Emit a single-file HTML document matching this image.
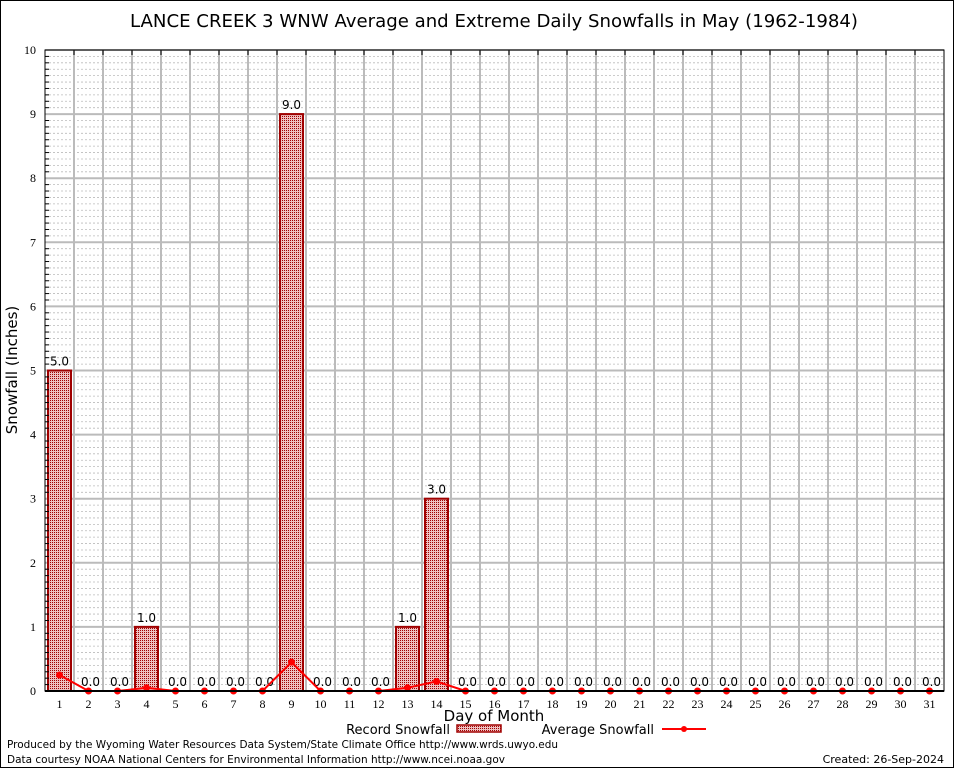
<!DOCTYPE html>
<html><head><meta charset="utf-8"><style>
body{margin:0;background:#fff;}
svg{display:block;font-family:"DejaVu Sans","Liberation Sans",sans-serif;}
</style></head><body>
<svg id="c" width="954" height="768">
<defs><pattern id="hatch" width="2" height="2" patternUnits="userSpaceOnUse"><rect width="2" height="2" fill="#eec0c0"/><rect width="1" height="1" fill="#a00000"/></pattern></defs>
<rect x="0.5" y="0.5" width="953" height="767" fill="#fff" stroke="#000"/>
<text x="494" y="27" font-size="17.5" text-anchor="middle" textLength="728" lengthAdjust="spacingAndGlyphs">LANCE CREEK 3 WNW Average and Extreme Daily Snowfalls in May (1962-1984)</text>
<g id="grid"></g><g id="bars"></g><g id="line"></g><g id="axes"></g>
<text x="17" y="370" font-size="15" text-anchor="middle" transform="rotate(-90 17 370)">Snowfall (Inches)</text>
<text x="494" y="721" font-size="15" text-anchor="middle">Day of Month</text>
<g><text x="450" y="734" font-size="13" text-anchor="end">Record Snowfall</text><rect x="457" y="725" width="44" height="7" fill="url(#hatch)" stroke="#a00000" stroke-width="1.5"/></g>
<g><text x="654" y="734" font-size="13" text-anchor="end">Average Snowfall</text><line x1="662" y1="729" x2="706" y2="729" stroke="#f00" stroke-width="2"/><circle cx="684" cy="729" r="3" fill="#f00"/></g>
<text x="7" y="748" font-size="11" textLength="551" lengthAdjust="spacingAndGlyphs">Produced by the Wyoming Water Resources Data System/State Climate Office http://www.wrds.uwyo.edu</text>
<text x="7" y="763" font-size="11" textLength="498" lengthAdjust="spacingAndGlyphs">Data courtesy NOAA National Centers for Environmental Information http://www.ncei.noaa.gov</text>
<text x="944" y="763" font-size="11" text-anchor="end">Created:  26-Sep-2024</text>
</svg>
<script>
const days=[1,2,3,4,5,6,7,8,9,10,11,12,13,14,15,16,17,18,19,20,21,22,23,24,25,26,27,28,29,30,31];
const recordSnow=[5,0,0,1,0,0,0,0,9,0,0,0,1,3,0,0,0,0,0,0,0,0,0,0,0,0,0,0,0,0,0];
const avgSnow=[0.25,0,0,0.05,0,0,0,0,0.45,0,0,0,0.05,0.15,0,0,0,0,0,0,0,0,0,0,0,0,0,0,0,0,0];
const yTicks=[0,1,2,3,4,5,6,7,8,9,10];
const L=45,R=944,T=50,B=691,yMax=10;
const bw=(R-L)/days.length;
const X=d=>L+(d-0.5)*bw;
const Y=v=>B-(v/yMax)*(B-T);
const NS="http://www.w3.org/2000/svg";
function mk(tag,attrs,parent,txt){const e=document.createElementNS(NS,tag);for(const k in attrs)e.setAttribute(k,attrs[k]);if(txt!==undefined)e.textContent=txt;document.getElementById(parent).appendChild(e);return e;}
for(let v=0;v<yMax*10;v++){if(v%10===0)continue;const y=Y(v/10);
 const g=mk('line',{x1:L,x2:R,y1:y,y2:y,stroke:'#bbb','stroke-dasharray':'2,2','stroke-width':0.8},'grid');
 
 
 const t=mk('line',{x1:L,x2:L+4,y1:y,y2:y,stroke:'#000'},'axes');
 
 }
yTicks.forEach(v=>{const y=Y(v);
 const g=mk('line',{x1:L,x2:R,y1:y,y2:y,stroke:'#bbb','stroke-width':2},'grid');
 
 
 const t=mk('text',{x:L-9,y:y+4,'font-size':12,'text-anchor':'end','font-family':'Liberation Serif,serif'},'axes',String(v));
 
 });
for(let i=1;i<days.length;i++){const x=L+i*bw;
 const g=mk('line',{x1:x,x2:x,y1:T,y2:B,stroke:'#bbb','stroke-width':2},'grid');
 
 
 const t=mk('line',{x1:x,x2:x,y1:T,y2:T+5,stroke:'#000'},'axes');
 
 }
days.forEach((d,i)=>{const v=recordSnow[i];const x=X(d);
 if(v>0){const r=mk('rect',{x:x-11.5,y:Y(v),width:23,height:B-Y(v),fill:'url(#hatch)',stroke:'#a00000','stroke-width':2},'bars');
  
  }
 const t=mk('text',{x:x+(v>0?0:2),y:Y(v)-5,'font-size':12,'text-anchor':'middle'},'bars',v.toFixed(1));
 
 
 const xl=mk('text',{x:x,y:B+17,'font-size':12,'text-anchor':'middle','font-family':'Liberation Serif,serif'},'axes',String(d));
 
 });
const pl=mk('polyline',{points:days.map((d,i)=>X(d)+','+Y(avgSnow[i])).join(' '),fill:'none',stroke:'#f00','stroke-width':2},'line');


days.forEach((d,i)=>{const c=mk('circle',{cx:X(d),cy:Y(avgSnow[i]),r:3.5,fill:'#f00'},'line');
 
 });
const fr=mk('rect',{x:L,y:T,width:R-L,height:B-T,fill:'none',stroke:'#000','stroke-width':1},'axes');


const xa=mk('line',{x1:L,x2:R,y1:B,y2:B,stroke:'#000','stroke-width':2},'axes');


</script>
</body></html>
